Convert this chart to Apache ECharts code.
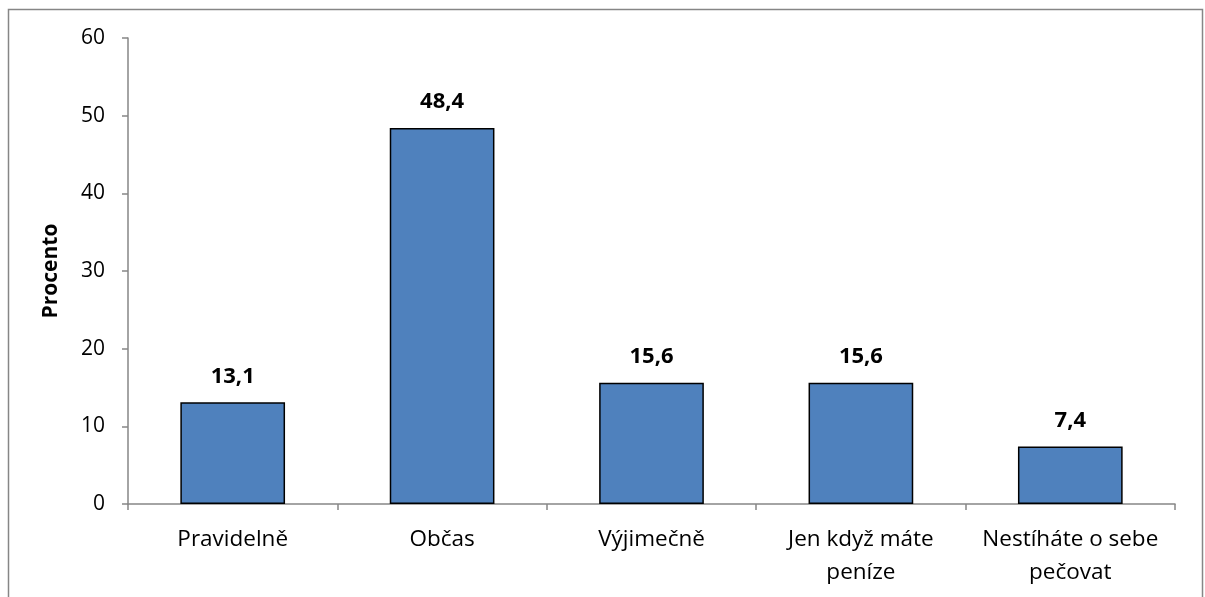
<!DOCTYPE html>
<html>
<head>
<meta charset="utf-8">
<title>Procento</title>
<script src="https://cdn.jsdelivr.net/npm/echarts@6/dist/echarts.min.js"></script>
<style>
  html, body { margin: 0; padding: 0; background: #fff; }
  #main { width: 1205px; height: 597px; }
</style>
</head>
<body>
<div id="main"></div>
<script>
// data
var categories = ['Pravidelně', 'Občas', 'Výjimečně', 'Jen když máte\npeníze', 'Nestíháte o sebe\npečovat']
var values = [13.1, 48.4, 15.6, 15.6, 7.4]
var yTicks = [0, 10, 20, 30, 40, 50, 60]

var font = 'Open Sans'
var myChart = echarts.init(document.getElementById('main'))
var option = {
  animation: false,
  backgroundColor: '#fff',
  textStyle: { fontFamily: font },
  graphic: [{
    type: 'rect',
    shape: { x: 8.5, y: 9.5, width: 1194, height: 620 },
    style: { fill: 'none', stroke: '#868686', lineWidth: 1.5 },
    silent: true
  }],
  grid: { left: 128, top: 38, right: 30, bottom: 93 },
  xAxis: {
    type: 'category',
    data: categories,
    axisLine: { lineStyle: { color: '#868686', width: 1.5 } },
    axisTick: { show: true, length: 6, lineStyle: { color: '#868686', width: 1.5 } },
    axisLabel: { interval: 0, color: '#000', fontSize: 22.5, margin: 19, lineHeight: 33, fontFamily: font }
  },
  yAxis: {
    type: 'value',
    min: yTicks[0],
    max: yTicks[yTicks.length - 1],
    interval: 10,
    name: 'Procento',
    nameLocation: 'middle',
    nameGap: 66,
    nameTextStyle: { color: '#000', fontSize: 21, fontWeight: 'bold', fontFamily: font },
    axisLine: { show: true, lineStyle: { color: '#868686', width: 1.5 } },
    axisTick: { show: true, length: 6, lineStyle: { color: '#868686', width: 1.5 } },
    axisLabel: { color: '#000', fontSize: 21, margin: 23, fontFamily: font },
    splitLine: { show: false }
  },
  series: [{
    type: 'bar',
    data: values,
    barWidth: '50%',
    itemStyle: { color: '#4F81BD', borderColor: '#000', borderWidth: 1.5 },
    label: {
      show: true,
      position: 'top',
      distance: 15,
      color: '#000',
      fontSize: 22,
      fontWeight: 'bold',
      fontFamily: font,
      formatter: function (p) { return p.value.toFixed(1).replace('.', ',') }
    }
  }]
}
myChart.setOption(option)
</script>
</body>
</html>
